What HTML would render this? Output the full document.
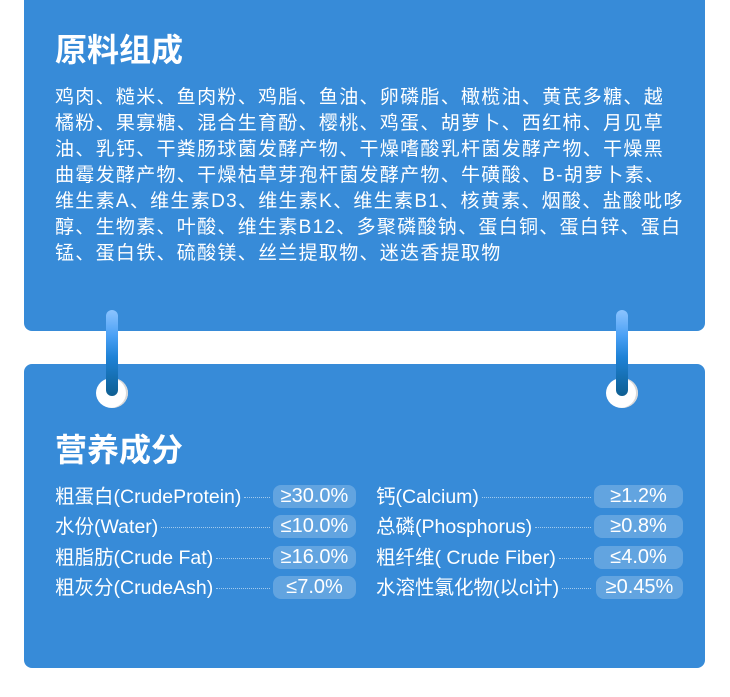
<!DOCTYPE html>
<html><head><meta charset="utf-8">
<style>
*{margin:0;padding:0;box-sizing:border-box}
body{width:730px;height:697px;background:#fff;position:relative;overflow:hidden;font-family:"Liberation Sans","Noto Sans CJK SC",sans-serif;color:#fff}
.card{position:absolute;left:24px;width:681px;background:#378bd8}
.t{position:absolute;font-weight:bold;font-size:32px;left:55px;line-height:40px}
.txt{position:absolute;left:55px;top:85px;font-size:19px;letter-spacing:1.3px;line-height:26px;white-space:nowrap}
.bar{position:absolute;width:12px;top:310px;height:86px;border-radius:6px;background:linear-gradient(#8cc4ff,#4aa0f5 30%,#1e82d6 55%,#0f5f92)}
.hole{position:absolute;width:32px;height:30px;top:378px;border-radius:50%;background:#fff;box-shadow:-2px 0 0 #d8d8d8 inset}
.row{position:absolute;font-size:19.5px;line-height:24px;white-space:nowrap;display:flex;align-items:center}
.dot{border-top:1px dotted rgba(255,255,255,.55);height:0;flex:1;margin:0 3px}
.pill{position:absolute;height:23px;border-radius:8px;background:rgba(255,255,255,.22);font-size:20px;line-height:23px;text-align:center}
</style></head><body>
<div class="card" style="top:0;height:331px;border-radius:0 0 8px 8px"></div>
<div class="card" style="top:364px;height:304px;border-radius:8px"></div>
<div class="t" style="top:30px">原料组成</div>
<div class="txt">鸡肉、糙米、鱼肉粉、鸡脂、鱼油、卵磷脂、橄榄油、黄芪多糖、越<br>橘粉、果寡糖、混合生育酚、樱桃、鸡蛋、胡萝卜、西红柿、月见草<br>油、乳钙、干粪肠球菌发酵产物、干燥嗜酸乳杆菌发酵产物、干燥黑<br>曲霉发酵产物、干燥枯草芽孢杆菌发酵产物、牛磺酸、B-胡萝卜素、<br>维生素A、维生素D3、维生素K、维生素B1、核黄素、烟酸、盐酸吡哆<br>醇、生物素、叶酸、维生素B12、多聚磷酸钠、蛋白铜、蛋白锌、蛋白<br>锰、蛋白铁、硫酸镁、丝兰提取物、迷迭香提取物</div>
<div class="hole" style="left:96px"></div>
<div class="hole" style="left:606px"></div>
<div class="bar" style="left:106px"></div>
<div class="bar" style="left:616px"></div>
<div class="t" style="top:430px">营养成分</div>

<div class="row" style="left:55px;top:485px;width:218px">粗蛋白(CrudeProtein)<span class="dot"></span></div>
<div class="row" style="left:55px;top:515px;width:218px">水份(Water)<span class="dot"></span></div>
<div class="row" style="left:55px;top:546px;width:218px">粗脂肪(Crude Fat)<span class="dot"></span></div>
<div class="row" style="left:55px;top:576px;width:218px">粗灰分(CrudeAsh)<span class="dot"></span></div>
<div class="pill" style="left:273px;top:485px;width:83px">≥30.0%</div>
<div class="pill" style="left:273px;top:515px;width:83px">≤10.0%</div>
<div class="pill" style="left:273px;top:546px;width:83px">≥16.0%</div>
<div class="pill" style="left:273px;top:576px;width:83px">≤7.0%</div>

<div class="row" style="left:376px;top:485px;width:218px">钙(Calcium)<span class="dot"></span></div>
<div class="row" style="left:376px;top:515px;width:218px">总磷(Phosphorus)<span class="dot"></span></div>
<div class="row" style="left:376px;top:546px;width:218px">粗纤维( Crude Fiber)<span class="dot"></span></div>
<div class="row" style="left:376px;top:576px;width:218px">水溶性氯化物(以cl计)<span class="dot"></span></div>
<div class="pill" style="left:594px;top:485px;width:89px">≥1.2%</div>
<div class="pill" style="left:594px;top:515px;width:89px">≥0.8%</div>
<div class="pill" style="left:594px;top:546px;width:89px">≤4.0%</div>
<div class="pill" style="left:596px;top:576px;width:87px">≥0.45%</div>
</body></html>
